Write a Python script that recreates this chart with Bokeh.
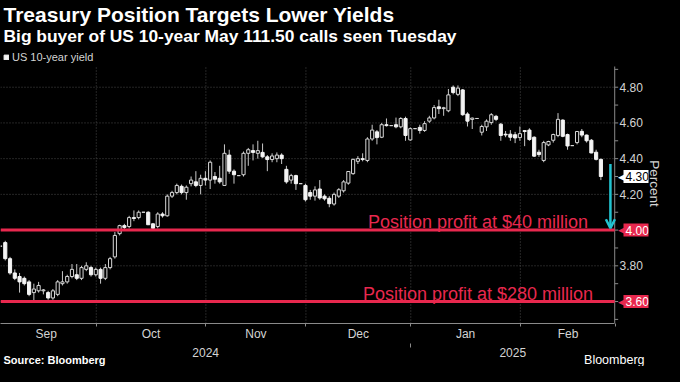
import numpy as np
import pandas as pd
from bokeh.plotting import figure
from bokeh.models import (Range1d, LinearAxis, FixedTicker, Grid, Label, Arrow,
                          OpenHead, Title, Legend, LegendItem, ColumnDataSource,
                          CustomJSTickFormatter, PrintfTickFormatter)
from bokeh.embed import file_html
from bokeh.resources import INLINE

# ---------------- data ----------------
first_day = "2024-09-02"   # weekday-indexed candles start here
opens = [3.91, 3.93, 3.84, 3.76, 3.74, 3.73, 3.71, 3.65, 3.66, 3.66, 3.65, 3.62, 3.64, 3.70, 3.71, 3.74, 3.75, 3.73, 3.78, 3.79, 3.75,
         3.78, 3.73, 3.79, 3.85, 3.98, 4.025, 4.02, 4.07, 4.07, 4.10, 4.10, 4.035, 4.02, 4.09, 4.08, 4.19, 4.21, 4.245, 4.21, 4.26, 4.27, 4.25, 4.29,
         4.28, 4.30, 4.29, 4.25, 4.42, 4.33, 4.305, 4.31, 4.43, 4.445, 4.43, 4.435, 4.41, 4.395, 4.40, 4.42, 4.34, 4.28, 4.305, 4.26, 4.25,
         4.21, 4.19, 4.23, 4.19, 4.178, 4.146, 4.19, 4.22, 4.263, 4.316, 4.385, 4.40, 4.39, 4.51, 4.55, 4.52, 4.59, 4.585, 4.59, 4.578, 4.625, 4.505,
         4.568, 4.575, 4.558, 4.61, 4.628, 4.69, 4.68, 4.668, 4.80, 4.76, 4.785, 4.65, 4.62, 4.625, 4.548, 4.578, 4.602, 4.637, 4.593, 4.537, 4.537, 4.534, 4.518,
         4.557, 4.56, 4.52, 4.436, 4.39, 4.477, 4.503, 4.53, 4.616, 4.535, 4.473, 4.49, 4.553, 4.532, 4.503, 4.436, 4.396]
highs = [3.91, 3.94, 3.85, 3.78, 3.76, 3.74, 3.72, 3.70, 3.71, 3.67, 3.66, 3.67, 3.72, 3.77, 3.75, 3.81, 3.81, 3.80, 3.82, 3.80, 3.79,
         3.79, 3.81, 3.85, 3.99, 4.03, 4.035, 4.08, 4.11, 4.11, 4.10, 4.105, 4.04, 4.10, 4.10, 4.20, 4.22, 4.26, 4.255, 4.25, 4.30, 4.33, 4.31, 4.33,
         4.39, 4.325, 4.36, 4.48, 4.45, 4.34, 4.305, 4.44, 4.46, 4.48, 4.50, 4.485, 4.42, 4.43, 4.435, 4.43, 4.36, 4.315, 4.31, 4.26, 4.26,
         4.225, 4.245, 4.28, 4.20, 4.19, 4.21, 4.235, 4.28, 4.33, 4.40, 4.414, 4.43, 4.52, 4.59, 4.56, 4.60, 4.625, 4.585, 4.63, 4.632, 4.635, 4.575,
         4.568, 4.59, 4.61, 4.64, 4.70, 4.73, 4.69, 4.79, 4.81, 4.81, 4.79, 4.66, 4.63, 4.625, 4.59, 4.62, 4.655, 4.645, 4.60, 4.555, 4.56, 4.55, 4.58,
         4.56, 4.57, 4.525, 4.45, 4.50, 4.50, 4.54, 4.655, 4.62, 4.54, 4.473, 4.555, 4.566, 4.535, 4.51, 4.45, 4.40]
lows = [3.91, 3.83, 3.75, 3.72, 3.65, 3.69, 3.63, 3.60, 3.65, 3.64, 3.61, 3.61, 3.63, 3.69, 3.70, 3.73, 3.72, 3.72, 3.77, 3.74, 3.74,
        3.70, 3.72, 3.78, 3.84, 3.97, 4.00, 4.01, 4.05, 4.06, 4.10, 4.03, 4.005, 4.01, 4.07, 4.075, 4.18, 4.20, 4.20, 4.17, 4.245, 4.24, 4.20, 4.25,
        4.23, 4.26, 4.26, 4.25, 4.315, 4.26, 4.305, 4.30, 4.36, 4.39, 4.40, 4.405, 4.33, 4.38, 4.38, 4.37, 4.26, 4.26, 4.225, 4.26, 4.16,
        4.17, 4.165, 4.17, 4.165, 4.128, 4.137, 4.18, 4.21, 4.254, 4.31, 4.37, 4.385, 4.38, 4.50, 4.48, 4.515, 4.58, 4.585, 4.57, 4.57, 4.50, 4.50,
        4.568, 4.54, 4.55, 4.60, 4.62, 4.65, 4.64, 4.66, 4.76, 4.75, 4.64, 4.58, 4.566, 4.625, 4.53, 4.555, 4.59, 4.61, 4.50, 4.52, 4.50, 4.487, 4.50,
        4.47, 4.50, 4.41, 4.41, 4.38, 4.47, 4.49, 4.52, 4.52, 4.45, 4.473, 4.48, 4.52, 4.49, 4.43, 4.39, 4.28]
closes = [3.91, 3.84, 3.76, 3.73, 3.71, 3.70, 3.64, 3.67, 3.69, 3.665, 3.62, 3.66, 3.71, 3.71, 3.74, 3.78, 3.73, 3.79, 3.80, 3.75, 3.78,
          3.73, 3.79, 3.84, 3.97, 4.025, 4.015, 4.07, 4.065, 4.10, 4.10, 4.03, 4.01, 4.09, 4.08, 4.19, 4.21, 4.25, 4.21, 4.24, 4.28, 4.25, 4.29, 4.28,
          4.38, 4.285, 4.27, 4.43, 4.33, 4.31, 4.305, 4.43, 4.45, 4.435, 4.445, 4.41, 4.395, 4.415, 4.42, 4.40, 4.27, 4.305, 4.26, 4.26, 4.17,
          4.19, 4.225, 4.18, 4.175, 4.148, 4.20, 4.226, 4.27, 4.328, 4.396, 4.40, 4.395, 4.51, 4.56, 4.518, 4.59, 4.585, 4.585, 4.578, 4.625, 4.53, 4.568,
          4.568, 4.558, 4.596, 4.628, 4.686, 4.68, 4.685, 4.757, 4.77, 4.795, 4.646, 4.61, 4.627, 4.625, 4.58, 4.61, 4.646, 4.62, 4.53, 4.533, 4.52, 4.516, 4.54,
          4.552, 4.507, 4.414, 4.423, 4.49, 4.496, 4.535, 4.62, 4.525, 4.471, 4.473, 4.552, 4.532, 4.50, 4.432, 4.396, 4.30]

month_starts = ["2024-09-01", "2024-10-01", "2024-11-01", "2024-12-01", "2025-01-01", "2025-02-01", "2025-03-01"]
month_names = ["Sep", "Oct", "Nov", "Dec", "Jan", "Feb"]
year_names = ["2024", "2025"]
y_label_ticks = [3.8, 4.2, 4.4, 4.6, 4.8]
y_grid_ticks = [3.6, 3.8, 4.0, 4.2, 4.4, 4.6, 4.8]
target_levels = [4.00, 3.60]
target_texts = ["Position profit at $40 million", "Position profit at $280 million"]
target_tags = ["4.00", "3.60"]
last_tag = "4.30"
arrow_from, arrow_to = 4.37, 4.01

# ---------------- layout ----------------
FONT = "Liberation Sans"
TXT = "#d4d4d4"
GRID = "#4a4a4a"
AXIS = "#8a8a8a"
RED = "#e8284e"
CYAN = "#22c3d1"

W, H = 664, 366
TOP, BOTTOM, RIGHT = 43, 43, 12
FRAME_W = W - RIGHT            # frame spans the tag / tick-label column too
PLOT_W = 618                   # visible plotting area (axis line position)
CHART_TOP = 66                 # canvas y of the chart's top edge
FRAME_B = H - BOTTOM
FRAME_H = FRAME_B - TOP

cal = pd.bdate_range(first_day, "2025-03-31")
n = len(closes)
x = np.arange(n)
bounds = [float(cal.searchsorted(pd.Timestamp(m))) - 0.9 for m in month_starts]
x_start, x_axis = 0.0, bounds[-1] - 0.2
x_end = x_start + (x_axis - x_start) * FRAME_W / PLOT_W
month_mids = [(bounds[i] + bounds[i + 1]) / 2 for i in range(len(month_names))]
year_bound = bounds[4]
year_mids = [(x_start + year_bound) / 2, (year_bound + x_axis) / 2]
px_per_x = PLOT_W / (x_axis - x_start)

y_lo, y_hi = 3.477, 4.916
px_per_y = (FRAME_B - CHART_TOP) / (y_hi - y_lo)
y_top = y_hi + (CHART_TOP - TOP) / px_per_y

o = np.array(opens); h = np.array(highs); l = np.array(lows); c = np.array(closes)
up = c >= o
dn = ~up

p = figure(width=W, height=H, x_range=Range1d(x_start, x_end), y_range=Range1d(y_lo, y_top),
           output_backend="svg", toolbar_location=None,
           x_axis_location=None, y_axis_location=None,
           background_fill_color="black", border_fill_color="black", outline_line_color=None,
           min_border_left=0, min_border_right=RIGHT, min_border_top=TOP, min_border_bottom=BOTTOM)
p.center = [r for r in p.center if not isinstance(r, Grid)]

# grid lines limited to the chart area
vg = [b for b in bounds if x_start < b < x_axis]
p.segment(x0=vg, y0=[y_lo] * len(vg), x1=vg, y1=[y_hi] * len(vg),
          line_color=GRID, line_dash="1 2", line_width=1)
p.segment(x0=[x_start] * len(y_grid_ticks), y0=y_grid_ticks, x1=[x_axis] * len(y_grid_ticks),
          y1=y_grid_ticks, line_color=GRID, line_dash="1 2", line_width=1)

# visible right axis line + tick marks
minor_y = [round(v, 2) for v in np.arange(3.5, 4.95, 0.1)]
p.segment(x0=[x_axis], y0=[y_lo], x1=[x_axis], y1=[y_hi], line_color=AXIS, line_width=1)
p.segment(x0=[x_axis] * len(minor_y), y0=minor_y, x1=[x_axis + 3.5 / px_per_x] * len(minor_y),
          y1=minor_y, line_color=AXIS, line_width=1)

fmt_code = """
let out = "";
for (let i = 0; i < pos.length; i++) { if (Math.abs(pos[i] - tick) < 1e-6) { out = names[i]; } }
return out;
"""
month_ax = LinearAxis(
    ticker=FixedTicker(ticks=month_mids, minor_ticks=bounds), bounds=(x_start, x_axis),
    formatter=CustomJSTickFormatter(args=dict(pos=month_mids, names=month_names), code=fmt_code),
    axis_line_color=AXIS, major_tick_line_color=None, major_tick_out=3, major_tick_in=0,
    minor_tick_line_color=AXIS, minor_tick_out=3, minor_tick_in=0,
    major_label_text_color=TXT, major_label_text_font=FONT, major_label_text_font_size="12px",
    major_label_standoff=0)
p.add_layout(month_ax, "below")
year_ax = LinearAxis(
    ticker=FixedTicker(ticks=year_mids, minor_ticks=[year_bound]), bounds=(x_start, x_axis),
    formatter=CustomJSTickFormatter(args=dict(pos=year_mids, names=year_names), code=fmt_code),
    axis_line_color=None, major_tick_line_color=None, major_tick_out=0, major_tick_in=0,
    minor_tick_line_color=AXIS, minor_tick_out=4, minor_tick_in=0,
    major_label_text_color=TXT, major_label_text_font=FONT, major_label_text_font_size="12px",
    major_label_standoff=0)
p.add_layout(year_ax, "below")

# right axis: labels pulled back into the tag column
ax_kw = dict(ticker=FixedTicker(ticks=y_label_ticks), formatter=PrintfTickFormatter(format="%.2f"),
             axis_line_color=None, major_tick_line_color=None, minor_tick_line_color=None,
             major_tick_out=0, major_tick_in=0, minor_tick_out=0, minor_tick_in=0,
             major_label_text_color=TXT, major_label_text_font=FONT, major_label_text_font_size="12px",
             axis_label="Percent", axis_label_text_color=TXT, axis_label_text_font=FONT,
             axis_label_text_font_size="13.5px", axis_label_text_font_style="normal",
             axis_label_standoff=1)
try:
    y_ax = LinearAxis(major_label_standoff=-(FRAME_W - PLOT_W - 5), **ax_kw)
except Exception:
    y_ax = LinearAxis(major_label_standoff=2, **ax_kw)
p.add_layout(y_ax, "right")

# candles
all_src = ColumnDataSource(dict(x=x, high=h, low=l))
p.segment(x0="x", y0="low", x1="x", y1="high", source=all_src, line_color="#c8c8c8", line_width=1)
up_src = ColumnDataSource(dict(x=x[up], top=np.maximum(o, c)[up], bottom=np.minimum(o, c)[up]))
dn_src = ColumnDataSource(dict(x=x[dn], top=np.maximum(o, c)[dn], bottom=np.minimum(o, c)[dn]))
p.vbar(x="x", width=0.66, top="top", bottom="bottom", source=up_src,
       fill_color="black", line_color="#d8d8d8", line_width=1)
dn_r = p.vbar(x="x", width=0.66, top="top", bottom="bottom", source=dn_src,
              fill_color="#f4f4f4", line_color="#f4f4f4", line_width=1)

# target lines and texts
for lvl, txt in zip(target_levels, target_texts):
    p.segment(x0=[x_start], y0=[lvl], x1=[x_axis], y1=[lvl], line_color=RED, line_width=3)
    p.add_layout(Label(x=100.2, y=lvl, text=txt, text_align="center", text_baseline="alphabetic",
                       y_offset=8, text_color=RED, text_font=FONT, text_font_size="18px"))

p.add_layout(Arrow(x_start=x_axis - 0.9, y_start=arrow_from, x_end=x_axis - 0.9, y_end=arrow_to,
                   line_color=CYAN, line_width=2.5,
                   end=OpenHead(size=9, line_color=CYAN, line_width=2.5)))

# value tags beside the axis
tag_x = PLOT_W + 5
for lvl, tg in zip(target_levels, target_tags):
    p.add_layout(Label(x=PLOT_W - 1, x_units="screen", y=lvl, text="\u25c0", text_align="left",
                       text_baseline="middle", text_color=RED, text_font_size="9px"))
    p.add_layout(Label(x=tag_x, x_units="screen", y=lvl, text=tg, text_align="left",
                       text_baseline="middle", text_color="white", text_font=FONT,
                       text_font_size="12px", background_fill_color=RED, padding=2))
p.add_layout(Label(x=PLOT_W - 1, x_units="screen", y=closes[-1], text="\u25c0", text_align="left",
                   text_baseline="middle", text_color="white", text_font_size="9px"))
p.add_layout(Label(x=tag_x, x_units="screen", y=closes[-1], text=last_tag, text_align="left",
                   text_baseline="middle", text_color="black", text_font=FONT,
                   text_font_size="12px", background_fill_color="white", padding=2))

# legend in the strip above the chart
leg = Legend(items=[LegendItem(label="US 10-year yield", renderers=[dn_r])],
             location=(3, FRAME_H - 8 - 12),
             orientation="horizontal", background_fill_alpha=0, border_line_alpha=0,
             glyph_width=6, glyph_height=6, label_standoff=3, padding=0, margin=0,
             label_height=12, label_text_font=FONT, label_text_font_size="11px",
             label_text_color=TXT)
p.add_layout(leg)

# titles (nearest to frame first)
p.add_layout(Title(text="Big buyer of US 10-year May 111.50 calls seen Tuesday", align="left",
                   text_font=FONT, text_font_size="17.4px", text_font_style="bold",
                   text_color="white", offset=3, standoff=-4), "above")
p.add_layout(Title(text="Treasury Position Targets Lower Yields", align="left",
                   text_font=FONT, text_font_size="21px", text_font_style="bold",
                   text_color="white", offset=3, standoff=0), "above")

# footer: both texts share one line just under the year row (near-zero-height panels)
p.add_layout(Title(text="Bloomberg", align="right", vertical_align="middle", text_font=FONT,
                   text_font_size="12.5px", text_font_style="normal", text_color="white",
                   offset=4, standoff=-16), "below")
p.add_layout(Title(text="Source: Bloomberg", align="left", vertical_align="middle", text_font=FONT,
                   text_font_size="11px", text_font_style="bold", text_color="white",
                   offset=3, standoff=-14), "below")

html = file_html(p, INLINE, title="Treasury Position Targets Lower Yields")
html = html.replace("</head>", "<style>html,body{background:#000;}</style></head>", 1)
open("out.html", "w").write(html)
